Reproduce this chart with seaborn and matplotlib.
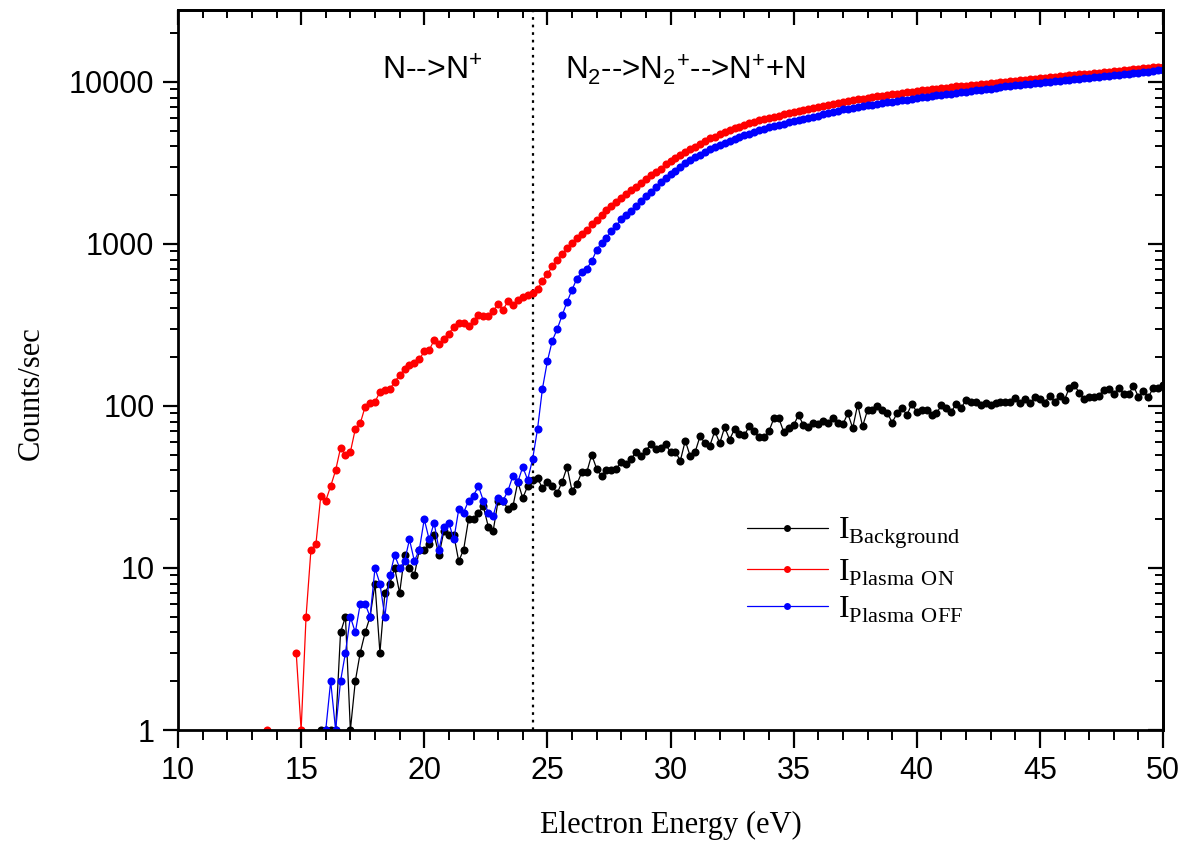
import numpy as np
import pandas as pd
import seaborn as sns
import matplotlib.pyplot as plt
from matplotlib.lines import Line2D
from matplotlib.ticker import MultipleLocator, FixedLocator, FixedFormatter, LogLocator, NullFormatter

nan = np.nan

# energy scan: 0.2 eV steps, every series ends at 50 eV
step = 0.2
start_bg = 15.8
start_on = 13.6
start_off = 16.0

# counts/sec (nan = zero counts, not shown on log axis)
counts_bg = [
    1, 1, 1, 1, 4, 5, 1, 2, 3, 4,
    5, 8, 3, 7, 8, 10, 7, 12, 10, 9,
    13, 13, 14, 16, 12, 17, 16, 16, 11, 13,
    20, 20, 22, 24, 18, 17, 26, 26, 23, 24,
    34, 27, 32, 35, 36, 31, 34, 32, 29, 34,
    42, 30, 33, 39, 39, 50, 41, 37, 40, 40,
    41, 45, 44, 47, 52, 49, 53, 58, 54, 55,
    58, 52, 52, 46, 61, 49, 52, 65, 59, 57,
    70, 59, 74, 62, 72, 67, 66, 75, 70, 64,
    64, 70, 84, 84, 69, 73, 76, 88, 76, 74,
    79, 77, 81, 78, 84, 78, 77, 90, 73, 102,
    75, 94, 94, 100, 95, 91, 79, 90, 97, 88,
    103, 92, 94, 95, 88, 90, 101, 97, 92, 103,
    97, 109, 106, 106, 101, 105, 101, 104, 106, 106,
    106, 112, 104, 110, 104, 113, 110, 105, 116, 106,
    116, 109, 130, 134, 121, 110, 114, 113, 116, 126,
    128, 119, 129, 119, 118, 133, 114, 124, 113, 129,
    130, 135,
]

counts_on = [
    1, nan, nan, nan, nan, nan, 3, 1, 5, 13,
    14, 28, 26, 32, 40, 55, 50, 52, 72, 78,
    99, 105, 106, 122, 125, 127, 141, 155, 169, 179,
    185, 194, 217, 221, 255, 242, 260, 280, 308, 326,
    323, 311, 336, 362, 361, 361, 387, 423, 391, 445,
    419, 449, 472, 487, 499, 524, 592, 655, 726, 800,
    872, 938, 1011, 1090, 1160, 1225, 1320, 1400, 1500, 1610,
    1720, 1810, 1920, 2020, 2160, 2260, 2390, 2510, 2680, 2790,
    2920, 3100, 3260, 3380, 3530, 3700, 3860, 3970, 4130, 4320,
    4480, 4600, 4760, 4920, 5060, 5180, 5300, 5430, 5580, 5680,
    5790, 5880, 6010, 6110, 6200, 6310, 6420, 6530, 6640, 6720,
    6840, 6950, 7040, 7130, 7250, 7330, 7460, 7560, 7640, 7720,
    7800, 7900, 7960, 8050, 8140, 8200, 8290, 8380, 8440, 8510,
    8610, 8700, 8780, 8870, 8960, 9010, 9100, 9160, 9230, 9300,
    9380, 9440, 9500, 9570, 9630, 9700, 9760, 9830, 9900, 9980,
    10060, 10150, 10200, 10260, 10340, 10420, 10480, 10550, 10600, 10680,
    10750, 10820, 10890, 10960, 11050, 11120, 11200, 11260, 11330, 11410,
    11480, 11560, 11620, 11700, 11790, 11860, 11940, 12020, 12110, 12200,
    12290, 12380, 12450,
]

counts_off = [
    1, 2, 1, 2, 3, 5, 4, 6, 6, 5,
    10, 8, 5, 9, 12, 10, 11, 15, 11, 13,
    20, 15, 19, 13, 18, 19, 15, 23, 22, 26,
    28, 32, 26, 22, 21, 27, 26, 30, 37, 34,
    42, 35, 47, 72, 128, 189, 253, 298, 363, 439,
    521, 612, 673, 705, 782, 918, 1020, 1084, 1210, 1294,
    1420, 1500, 1600, 1720, 1850, 1990, 2100, 2250, 2400, 2570,
    2700, 2840, 2990, 3150, 3300, 3420, 3560, 3700, 3860, 3960,
    4080, 4200, 4310, 4440, 4560, 4680, 4780, 4900, 5060, 5140,
    5250, 5330, 5420, 5530, 5620, 5720, 5810, 5900, 6000, 6080,
    6200, 6310, 6420, 6530, 6650, 6760, 6850, 6930, 7010, 7090,
    7170, 7250, 7320, 7400, 7480, 7560, 7630, 7700, 7780, 7860,
    7940, 8020, 8100, 8180, 8260, 8330, 8420, 8480, 8570, 8650,
    8720, 8800, 8880, 8960, 9040, 9110, 9190, 9270, 9380, 9460,
    9520, 9600, 9680, 9750, 9820, 9890, 9960, 10040, 10110, 10190,
    10260, 10340, 10410, 10480, 10560, 10640, 10710, 10790, 10870, 10950,
    11020, 11100, 11170, 11250, 11330, 11410, 11490, 11580, 11680, 11780,
    11850,
]

series_names = ['Background', 'Plasma ON', 'Plasma OFF']
series_labels = [r'$\mathrm{I}_{\mathrm{Background}}$',
                 r'$\mathrm{I}_{\mathrm{Plasma\ ON}}$',
                 r'$\mathrm{I}_{\mathrm{Plasma\ OFF}}$']
colors = ['#000000', '#ff0000', '#0000ff']
threshold_eV = 24.4

frames = []
for name, start, counts in zip(series_names, [start_bg, start_on, start_off],
                               [counts_bg, counts_on, counts_off]):
    y = np.array(counts, dtype=float)
    e = np.round(start + step * np.arange(len(y)), 1)
    seg = np.cumsum(np.isnan(y))  # break the line where counts are zero
    frames.append(pd.DataFrame({'energy': e, 'counts': y, 'series': name, 'seg': seg}))
df = pd.concat(frames, ignore_index=True).dropna()

sns.set_style('ticks')
plt.rcParams['font.family'] = ['Liberation Sans', 'DejaVu Sans']
plt.rcParams['mathtext.fontset'] = 'custom'
plt.rcParams['mathtext.rm'] = 'Liberation Serif'
plt.rcParams['mathtext.sf'] = 'Liberation Sans'
plt.rcParams['axes.linewidth'] = 2.0
for key in ['text.color', 'axes.labelcolor', 'xtick.color', 'ytick.color', 'axes.edgecolor']:
    plt.rcParams[key] = 'black'

fig = plt.figure(figsize=(11.83, 8.42), dpi=100)
ax = fig.add_axes([178 / 1183, 1 - 730 / 842, 985 / 1183, 720 / 842])

sns.lineplot(data=df, x='energy', y='counts', hue='series', units='seg',
             estimator=None, hue_order=series_names, palette=colors,
             marker='o', markersize=5.8, markeredgewidth=0, linewidth=0.9,
             legend=False, ax=ax)

ax.axvline(threshold_eV, color='k', ls=(0, (1.2, 2.2)), lw=1.6, zorder=1)

ax.set_yscale('log')
ax.set_xlim(10, 50)
ax.set_ylim(1, 27800)

ax.xaxis.set_major_locator(MultipleLocator(5))
ax.xaxis.set_minor_locator(MultipleLocator(1))
yt = [1, 10, 100, 1000, 10000]
ax.yaxis.set_major_locator(FixedLocator(yt))
ax.yaxis.set_major_formatter(FixedFormatter([str(v) for v in yt]))
ax.yaxis.set_minor_locator(LogLocator(base=10, subs=np.arange(2, 10), numticks=20))
ax.yaxis.set_minor_formatter(NullFormatter())
ax.tick_params(which='major', direction='out', length=11, width=1.6,
               labelsize=22, pad=6)
ax.tick_params(which='minor', direction='out', length=6, width=1.4)
ax.tick_params(axis='x', which='major', length=13)
ax.tick_params(axis='x', which='minor', length=7)

# inward ticks on top and right
top = ax.secondary_xaxis('top')
top.xaxis.set_major_locator(MultipleLocator(5))
top.xaxis.set_minor_locator(MultipleLocator(1))
top.tick_params(which='major', direction='in', length=11, width=1.6, labeltop=False)
top.tick_params(which='minor', direction='in', length=6, width=1.4)
right = ax.secondary_yaxis('right')
right.set_yscale('log')
right.yaxis.set_major_locator(FixedLocator(yt))
right.yaxis.set_minor_locator(LogLocator(base=10, subs=np.arange(2, 10), numticks=20))
right.yaxis.set_minor_formatter(NullFormatter())
right.tick_params(which='major', direction='in', length=11, width=1.6, labelright=False)
right.tick_params(which='minor', direction='in', length=6, width=1.4)

ax.set_xlabel('Electron Energy (eV)', fontsize=22, family='Liberation Serif')
ax.set_ylabel('Counts/sec', fontsize=22, family='Liberation Serif')
ax.xaxis.set_label_coords(0.5, -0.112)
ax.yaxis.set_label_coords(-0.134, 0.468)

ax.text(18.3, 10280, r'N-->N$^{\mathsf{+}}$', fontsize=23, va='baseline')
ax.text(25.7, 10280, r'N$_{\mathsf{2}}$-->N$_{\mathsf{2}}{}^{\mathsf{+}}$-->N$^{\mathsf{+}}$+N',
        fontsize=22.5, va='baseline')

handles = [Line2D([], [], color=c, lw=0.9, marker='o', markersize=5, markeredgewidth=0)
           for c in colors]
ax.legend(handles, series_labels, loc='upper left', frameon=False, fontsize=23,
          handlelength=2.55, handletextpad=0.3, labelspacing=0.2,
          bbox_to_anchor=(718 / 1183, 1 - 487 / 842), bbox_transform=fig.transFigure)

fig.savefig('out.png', dpi=100)
